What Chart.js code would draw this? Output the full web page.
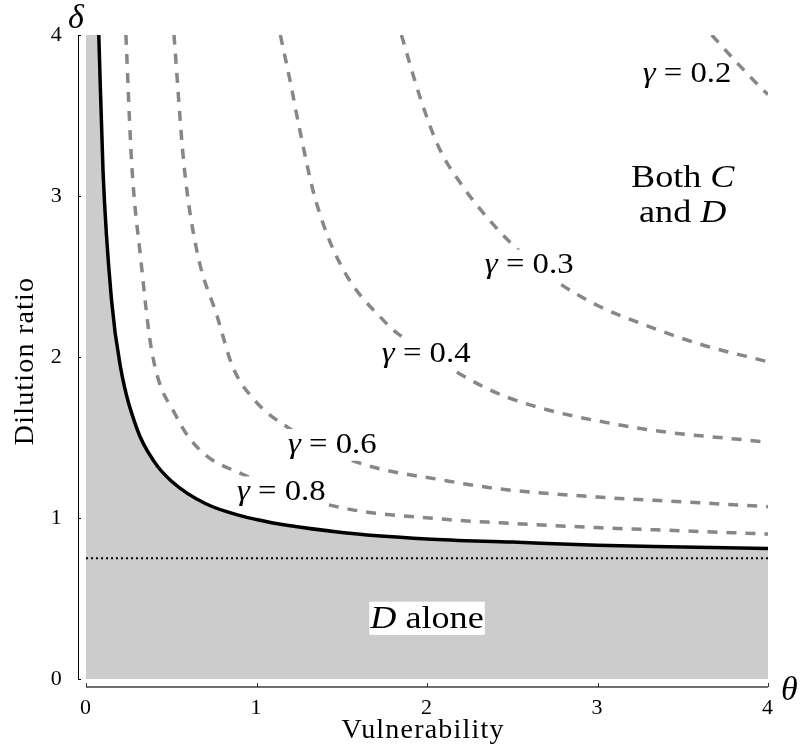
<!DOCTYPE html>
<html>
<head>
<meta charset="utf-8">
<title>Dilution ratio vs vulnerability</title>
<script src="https://cdn.jsdelivr.net/npm/chart.js"></script>
<style>
  body { margin: 0; background: #fff; }
  #wrap { width: 801px; height: 755px; }
</style>
</head>
<body>
<div id="wrap"><canvas id="chart" width="801" height="755"></canvas></div>
<script>
// axis ticks
const thetaTicks = [0, 1, 2, 3, 4];
const deltaTicks = [0, 1, 2, 3, 4];

// dotted threshold line
const thresholdDelta = 0.75;

// solid boundary: below it only D survives
const boundaryTheta = [0.075, 0.1, 0.15, 0.2, 0.3, 0.4, 0.5, 0.7, 1.0, 1.5, 2.0, 2.5, 3.0, 3.5, 4.0];
const boundaryDelta = [4.0, 3.15, 2.35, 1.95, 1.55, 1.35, 1.23, 1.09, 0.99, 0.91, 0.87, 0.85, 0.83, 0.82, 0.81];

// dashed contours, one per gamma
const g08Theta = [0.234, 0.268, 0.32, 0.385, 0.53, 0.67, 0.9, 1.45, 2.12, 2.43, 3.0, 3.5, 4.0];
const g08Delta = [4.0, 3.2, 2.62, 2.04, 1.63, 1.42, 1.28, 1.075, 0.99, 0.97, 0.94, 0.92, 0.90];

const g06Theta = [0.516, 0.574, 0.65, 0.77, 0.86, 0.99, 1.18, 1.58, 2.12, 2.43, 3.0, 3.5, 4.0];
const g06Delta = [4.0, 3.2, 2.66, 2.25, 1.94, 1.73, 1.565, 1.35, 1.23, 1.18, 1.13, 1.10, 1.07];

const g04Theta = [1.14, 1.2, 1.25, 1.34, 1.49, 1.76, 1.86, 2.15, 2.47, 3.2, 4.0];
const g04Delta = [4.0, 3.7, 3.43, 3.0, 2.58, 2.21, 2.12, 1.92, 1.75, 1.565, 1.47];

const g03Theta = [1.85, 1.96, 2.07, 2.21, 2.35, 2.49, 2.76, 3.0, 3.25, 3.6, 4.0];
const g03Delta = [4.0, 3.61, 3.30, 3.06, 2.87, 2.71, 2.47, 2.32, 2.21, 2.08, 1.97];

const g02Theta = [3.67, 3.79, 3.97, 4.0];
const g02Delta = [4.0, 3.86, 3.66, 3.63];

const pts = (xs, ys) => xs.map((v, i) => ({ x: v, y: ys[i] }));

const SERIF = '"Liberation Serif", "DejaVu Serif", serif';
const GRAY = '#878787';
const STRETCH = 1.13; // the original's type is set a little wide

function dashed(xs, ys) {
    return {
        data: pts(xs, ys), borderColor: GRAY, borderWidth: 3.5, borderDash: [10, 9],
        pointRadius: 0, fill: false, cubicInterpolationMode: 'monotone', order: 1
    };
}

// width of a run of roman/italic pieces (unscaled)
function runWidth(ctx, parts, size) {
    let w = 0;
    parts.forEach(p => {
        ctx.font = (p[1] ? 'italic ' : '') + size + 'px ' + SERIF;
        w += ctx.measureText(p[0]).width;
    });
    return w;
}

function drawRun(ctx, parts, left, baseline, size) {
    ctx.save();
    ctx.translate(left, baseline);
    ctx.scale(STRETCH, 1);
    let cx = 0;
    parts.forEach(p => {
        ctx.font = (p[1] ? 'italic ' : '') + size + 'px ' + SERIF;
        ctx.fillText(p[0], cx, 0);
        cx += ctx.measureText(p[0]).width;
    });
    ctx.restore();
}

// a bit of letter spacing for the axis titles
const spacing = {
    id: 'spacing',
    beforeDraw(chart) { chart.ctx.letterSpacing = '1.2px'; },
    afterDraw(chart) { chart.ctx.letterSpacing = '0px'; }
};

const decor = {
    id: 'decor',
    afterDatasetsDraw(chart, args, opts) {
        const { ctx, chartArea, scales: { x, y } } = chart;
        ctx.save();
        ctx.letterSpacing = '0px';
        // y axis, offset left of the plot
        ctx.strokeStyle = '#000';
        ctx.lineWidth = 1;
        ctx.beginPath();
        ctx.moveTo(chartArea.left + 0.5, y.getPixelForValue(deltaTicks[deltaTicks.length - 1]));
        ctx.lineTo(chartArea.left + 0.5, y.getPixelForValue(deltaTicks[0]));
        deltaTicks.forEach(v => {
            const py = Math.round(y.getPixelForValue(v)) + 0.5;
            ctx.moveTo(chartArea.left, py);
            ctx.lineTo(chartArea.left + 3, py);
        });
        ctx.stroke();
        // x axis, offset below the plot
        ctx.strokeStyle = '#6e6e6e';
        ctx.lineWidth = 2;
        ctx.beginPath();
        ctx.moveTo(x.getPixelForValue(thetaTicks[0]), chartArea.bottom);
        ctx.lineTo(x.getPixelForValue(thetaTicks[thetaTicks.length - 1]), chartArea.bottom);
        ctx.stroke();
        ctx.strokeStyle = '#333';
        ctx.lineWidth = 1;
        ctx.beginPath();
        thetaTicks.forEach(v => {
            const px = Math.round(x.getPixelForValue(v)) + 0.5;
            ctx.moveTo(px, chartArea.bottom);
            ctx.lineTo(px, chartArea.bottom - 4);
        });
        ctx.stroke();

        // in-plot labels
        ctx.textBaseline = 'alphabetic';
        ctx.textAlign = 'left';
        opts.labels.forEach(l => {
            const px = x.getPixelForValue(l.theta);
            const py = y.getPixelForValue(l.delta);
            const w = runWidth(ctx, l.parts, l.size) * STRETCH;
            const left = l.align === 'center' ? px - w / 2 : px;
            if (l.box) {
                ctx.fillStyle = '#fff';
                ctx.fillRect(left - l.box[0], py - l.size * 0.82, w + 2 * l.box[0], l.size * 0.82 + l.box[1]);
            }
            ctx.fillStyle = '#000';
            drawRun(ctx, l.parts, left, py, l.size);
        });

        // axis symbols
        ctx.font = 'italic 34px ' + SERIF;
        ctx.fillText('δ', 68, 28);
        ctx.fillText('θ', 781, 700);
        ctx.restore();
    }
};

const gammaLabel = (g, theta, delta) => ({
    theta, delta, size: 29, align: 'left', box: [3, 8],
    parts: [['γ', true], [' = ' + g, false]]
});

new Chart(document.getElementById('chart'), {
    type: 'line',
    data: {
        datasets: [
            {
                // solid boundary on top
                data: pts(boundaryTheta, boundaryDelta), borderColor: '#000', borderWidth: 3.5,
                pointRadius: 0, fill: false, cubicInterpolationMode: 'monotone', order: 0
            },
            dashed(g08Theta, g08Delta),
            dashed(g06Theta, g06Delta),
            dashed(g04Theta, g04Delta),
            dashed(g03Theta, g03Delta),
            dashed(g02Theta, g02Delta),
            {
                data: [{ x: thetaTicks[0], y: thresholdDelta }, { x: thetaTicks[thetaTicks.length - 1], y: thresholdDelta }],
                borderColor: '#000', borderWidth: 2, borderDash: [2, 3], pointRadius: 0, fill: false, order: 2
            },
            {
                // gray "D alone" region under the boundary
                data: pts(boundaryTheta, boundaryDelta), borderWidth: 0, borderColor: 'rgba(0,0,0,0)',
                backgroundColor: '#cccccc', pointRadius: 0, fill: 'origin',
                cubicInterpolationMode: 'monotone', order: 5
            },
            {
                // strip left of the boundary, slightly overlapping it (hidden under the black line)
                data: [{ x: thetaTicks[0], y: boundaryDelta[0] }, { x: boundaryTheta[0] + 0.008, y: boundaryDelta[0] }],
                borderWidth: 0, borderColor: 'rgba(0,0,0,0)', backgroundColor: '#cccccc',
                pointRadius: 0, fill: 'origin', order: 5
            }
        ]
    },
    options: {
        responsive: false,
        animation: false,
        events: [],
        layout: { padding: { top: 35, right: 33, left: 0, bottom: 0 } },
        plugins: {
            legend: { display: false },
            tooltip: { enabled: false },
            decor: {
                labels: [
                    gammaLabel('0.8', 0.885, 1.11),
                    gammaLabel('0.6', 1.184, 1.405),
                    gammaLabel('0.4', 1.735, 1.97),
                    gammaLabel('0.3', 2.339, 2.52),
                    gammaLabel('0.2', 3.265, 3.71),
                    { theta: 3.5, delta: 3.056, size: 32, align: 'center', parts: [['Both ', false], ['C', true]] },
                    { theta: 3.5, delta: 2.84, size: 32, align: 'center', parts: [['and ', false], ['D', true]] },
                    { theta: 2.0, delta: 0.317, size: 32, align: 'center', box: [1, 7], parts: [['D', true], [' alone', false]] }
                ]
            }
        },
        scales: {
            x: {
                type: 'linear', min: -0.047, max: 4,
                afterBuildTicks: s => { s.ticks = thetaTicks.map(v => ({ value: v })); },
                afterFit: s => { s.height = 68; },
                grid: { display: false, drawTicks: false },
                border: { display: false },
                ticks: { color: '#000', padding: 8, maxRotation: 0, font: { family: SERIF, size: 22 } },
                title: {
                    display: true, text: 'Vulnerability', color: '#000',
                    font: { family: SERIF, size: 28, lineHeight: 1.2 }, padding: { top: 0, bottom: 8 }
                }
            },
            y: {
                type: 'linear', min: -0.05, max: 4,
                afterBuildTicks: s => { s.ticks = deltaTicks.map(v => ({ value: v })); },
                afterFit: s => { s.width = 78; },
                grid: { display: false, drawTicks: false },
                border: { display: false },
                ticks: { color: '#000', padding: 15, font: { family: SERIF, size: 22 } },
                title: {
                    display: true, text: 'Dilution ratio', color: '#000',
                    font: { family: SERIF, size: 28, lineHeight: 1.2 }, padding: { top: 9, bottom: 0 }
                }
            }
        }
    },
    plugins: [spacing, decor]
});
</script>
</body>
</html>
